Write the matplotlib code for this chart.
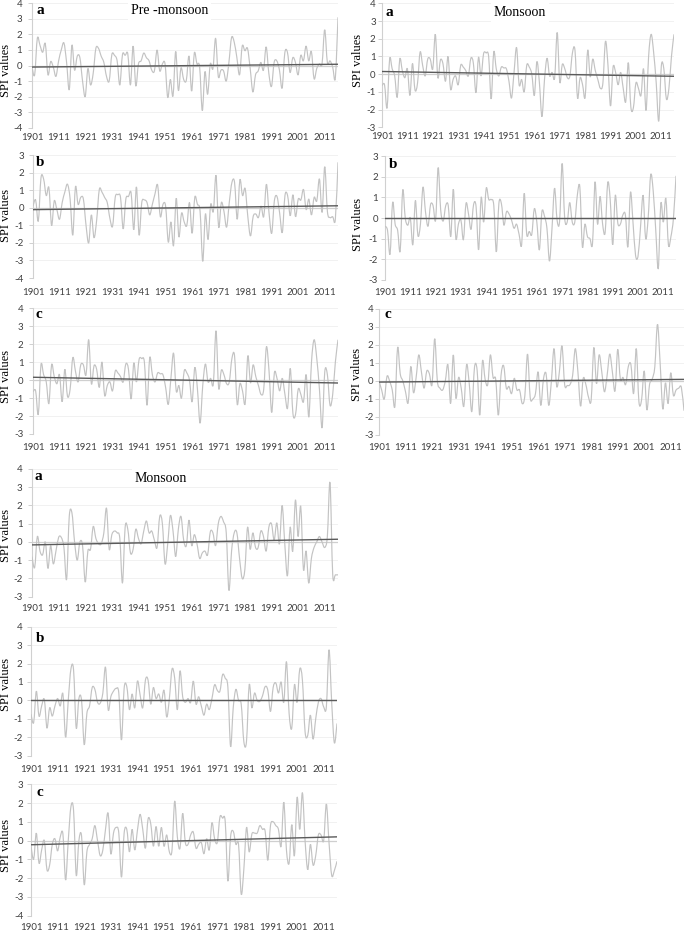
import numpy as np
import matplotlib
matplotlib.use("Agg")
import matplotlib.pyplot as plt
from matplotlib.path import Path
from matplotlib.patches import PathPatch

W, H = 685, 934
START_YEAR = 1901

# ---------------- data (SPI values, 1901-2016) ----------------
pre_a = [
    -0.1, -0.6, 1.75, 1.3, 0.85, 1.4, -0.6, 0.25, -0.1, -0.7,
    0.3, 1.0, 1.45, 0.2, -1.55, 1.3, -0.3, 0.6, 0.5, -1.0,
    -2.0, -0.2, -1.25, -0.5, 1.1, 1.1, 0.6, 0.2, -0.7, -1.0,
    0.7, 0.65, 0.3, -1.25, 0.7, 0.65, 0.75, -1.25, 1.25, -1.3,
    0.1, 0.3, 0.8, 0.5, 0.3, -0.3, -0.35, 1.0, -0.35, 0.1,
    0.1, -2.05, -0.9, -1.95, 0.9, -1.6, -0.15, -0.9, -0.95, 0.6,
    -1.65, 0.8, 0.1, -0.1, -2.9, -0.4, -1.85, 0.1, -0.2, 1.75,
    -0.7, -0.3, -0.35, -1.0, 0.2, 1.8, 1.5, 0.5, -0.6, 1.25,
    0.95, 1.1, -0.2, -1.7, -0.6, -0.35, 0.2, -0.3, 1.2, -0.5,
    -1.35, 0.2, 0.3, -0.3, -1.45, 0.8, 0.85, -0.45, 0.5, 0.2,
    -0.6, 0.65, 0.3, 1.25, 0.3, 0.9, -0.85, -0.2, 0.1, 0.1,
    2.3, 0.2, 0.3, -0.1, -0.8, 3.1]

pre_b = [
    0.1, 0.45, -0.75, 1.7, 1.65, 0.7, 1.15, -1.0, 0.4, -0.1,
    -0.65, 0.3, 0.9, 1.35, 0.5, -1.55, 1.2, 0.2, 0.6, 0.5,
    -1.0, -2.0, -0.4, -1.7, -0.7, 1.05, 0.9, 0.6, 0.3, -0.6,
    -1.05, 0.6, 0.75, 0.6, -1.2, 0.5, 0.65, 0.85, -1.25, 1.2,
    -1.55, 0.3, 0.45, 0.3, -0.4, 0.2, 0.8, 1.3, -0.5, 0.2,
    0.1, -1.95, -0.8, -2.15, 0.55, -1.65, -0.3, -0.8, -1.0, 0.3,
    -1.45, 0.6, 0.2, -0.2, -3.05, -0.35, -1.8, 0.2, -0.2, 1.85,
    -1.1, 0.3, -0.2, -1.1, 0.3, 1.45, 1.45, -0.65, 1.6, 0.7,
    1.1, -0.5, -1.6, -0.5, -0.35, -0.55, 0.1, -0.5, 1.35, -0.3,
    -1.45, 0.4, 0.65, -0.3, -1.4, 0.7, 0.7, -0.45, 0.75, -0.5,
    0.5, 0.45, 1.05, -0.1, 0.5, -0.4, 0.6, 0.4, 1.65, -0.25,
    2.35, -0.2, -0.55, -0.5, -0.65, 2.6]

pre_c = [
    -0.65, -0.6, -1.9, 0.85, 0.3, -0.1, -1.3, 0.85, 0.2, -0.2,
    0.3, -1.2, 0.6, -0.9, -0.5, 1.25, 0.5, -0.1, 0.85, 0.85,
    0.3, 2.25, -0.2, 0.8, 0.6, -0.4, 1.0, -0.85, -0.3, -0.1,
    -0.6, 0.5, 0.4, 0.2, -0.1, 0.9, 0.6, -1.05, 0.95, -0.1,
    1.15, 1.2, 1.0, -1.4, 1.25, 0.3, -0.1, 0.4, 0.35, 0.3,
    -0.4, -1.35, 0.1, 1.5, -0.6, -0.3, -1.0, 0.5, 0.4, 0.0,
    -1.2, 0.7, -0.5, -2.4, -0.3, 0.9, -0.1, 0.1, -0.2, 2.75,
    -0.45, 0.55, 0.3, -0.2, -0.1, 1.2, 1.35, -1.35, -0.2, -0.6,
    -1.3, 1.35, -0.15, 0.85, 0.2, -0.3, -0.8, -0.5, 1.85, 0.5,
    -1.8, 0.4, 0.1, -0.6, 0.1, -0.8, -1.55, 0.65, -1.85, -1.9,
    -0.5, -0.8, -1.2, 0.3, -2.05, 1.0, 2.25, 1.2, -0.5, -2.65,
    0.45, 0.3, -1.4, -0.8, 1.0, 2.25]

mon_r_a = [
    -0.65, -0.6, -1.9, 0.85, 0.3, -0.1, -1.3, 0.85, 0.2, -0.2,
    0.3, -1.2, 0.6, -0.9, -0.5, 1.25, 0.5, -0.1, 0.85, 0.85,
    0.3, 2.25, -0.2, 0.8, 0.6, -0.4, 1.0, -0.85, -0.3, -0.1,
    -0.6, 0.5, 0.4, 0.2, -0.1, 0.9, 0.6, -1.05, 0.95, -0.1,
    1.15, 1.2, 1.0, -1.4, 1.25, 0.3, -0.1, 0.4, 0.35, 0.3,
    -0.4, -1.35, 0.1, 1.5, -0.6, -0.3, -1.0, 0.5, 0.4, 0.0,
    -1.2, 0.7, -0.5, -2.4, -0.3, 0.9, -0.1, 0.1, -0.2, 2.35,
    -0.45, 0.55, 0.3, -0.2, -0.1, 1.2, 1.35, -1.35, -0.2, -0.6,
    -1.3, 1.35, -0.15, 0.85, 0.2, -0.3, -0.8, -0.5, 1.85, 0.5,
    -1.8, 0.4, 0.1, -0.6, 0.1, -0.8, -1.55, 0.65, -1.85, -1.9,
    -0.5, -0.8, -1.2, 0.3, -2.05, 1.0, 2.25, 1.2, -0.5, -2.65,
    0.45, 0.3, -1.4, -0.8, 1.0, 2.25]

mon_r_b = [
    -0.4, -0.6, -1.75, 0.75, -0.3, -0.6, -1.6, 1.35, 0.0, -0.35,
    0.0, -1.3, 0.85, -0.85, -0.3, 1.5, 0.3, -0.4, 0.65, 0.6,
    -0.1, 2.45, 0.4, -0.15, 0.6, 0.6, -0.9, 1.4, -1.0, -0.3,
    -0.1, -1.05, 0.7, 0.2, -0.55, 0.65, 0.55, -1.55, 1.0, -0.2,
    1.45, 0.9, 0.9, 0.6, -1.65, 0.7, 0.7, -0.35, 0.3, 0.2,
    -0.1, -0.5, -0.3, -0.8, -1.3, 1.2, -0.8, -0.65, -0.8, 0.45,
    -0.2, -1.55, 0.3, 0.1, -0.5, -2.1, -0.5, 1.45, -0.1, -0.15,
    2.65, 0.0, -0.2, 0.75, -0.2, -0.2, 1.1, 1.5, -1.4, -0.3,
    -0.9, -1.0, -1.25, 1.75, -0.3, 1.05, -0.3, -0.7, 1.7, 0.9,
    -1.3, 1.1, -0.25, -0.3, 0.15, 0.15, -1.4, 1.25, -0.2, -1.8,
    -1.85, -0.4, 1.1, -1.0, 0.0, 2.1, 1.3, -0.6, -2.45, 0.7,
    -0.2, 0.95, -1.3, -0.9, 0.0, 2.05]

mon_r_c = [
    0.0, -0.5, -1.0, 0.25, 0.0, -0.5, -1.4, 1.85, 0.4, 0.0,
    -0.6, -1.2, 0.8, -0.65, 0.2, 1.45, 0.5, -0.4, 0.55, 0.4,
    -0.2, 2.35, 0.0, -0.4, -0.5, 0.0, 0.9, -1.25, 1.45, -0.95,
    0.2, -0.4, -1.4, 0.9, -0.1, -1.7, 0.75, 0.6, -1.9, 1.1,
    0.1, -0.2, 1.45, 0.2, 0.1, -1.9, 0.3, 0.85, -0.4, -0.3,
    -0.7, 0.15, -0.5, -0.5, -1.25, -0.8, 1.5, -0.9, -1.0, -0.7,
    0.5, -1.35, 0.1, 0.4, -1.35, 0.0, 1.8, -0.3, 0.5, 1.95,
    -0.2, -0.25, -0.2, 0.3, 1.8, 0.5, -1.4, 0.15, -0.2, -0.9,
    -1.05, 1.85, -0.15, 1.45, 0.5, -0.6, 0.3, 1.5, 0.5, -0.55,
    1.75, 0.1, 0.2, -0.2, 0.8, 0.9, -0.7, 1.8, -1.15, -1.05,
    0.55, -1.6, -0.2, 0.1, 0.8, 3.15, 1.0, -1.55, -0.1, -1.25,
    0.45, -0.8, -0.5, -0.4, -0.35, -1.65]

mon_b_a = [
    -0.8, -1.4, 0.3, -0.5, -0.7, 0.0, -1.45, -0.2, -1.2, -0.5,
    0.25, 0.25, -0.3, -2.05, 1.4, 1.6, 0.0, -1.0, 0.0, -0.2,
    -2.2, -0.5, -0.4, 0.85, 0.2, -0.1, -0.1, 0.5, 1.85, -0.4,
    0.4, 0.6, 0.5, 0.2, -2.25, 0.8, 0.7, -0.6, -0.4, 0.7,
    0.2, -0.1, 0.6, 1.15, 0.5, 0.6, 0.1, -0.3, 1.4, 1.0,
    -1.2, -0.1, 1.45, 0.6, -0.8, 0.7, 1.4, 0.1, -0.2, 1.2,
    -0.2, 0.4, -0.1, -0.9, -0.6, -0.5, -0.7, 0.55, 0.5, -0.2,
    1.0, 1.4, 1.1, 0.5, -2.65, -0.5, 0.5, 0.5, -0.9, -2.0,
    -1.5, 0.8, -0.4, 0.5, -0.3, -0.3, 0.6, 0.3, -0.5, 0.8,
    1.0, 0.1, 1.05, -0.1, 2.0, -0.1, -1.85, 0.8, -0.5, 2.3,
    0.3, 1.95, -1.5, -0.5, -2.25, -0.9, -0.3, 0.0, 0.3, 0.0,
    -0.3, 0.3, 3.25, -1.75, -1.8, -1.8]

mon_b_b = [
    -0.75, -1.2, 0.5, -0.85, -0.3, 0.05, -1.5, -0.4, -0.85, -0.3,
    0.1, -0.3, 0.35, -2.0, 0.0, 1.7, 1.65, -1.5, 0.1, 0.0,
    -2.4, -0.7, -0.3, 0.7, 0.6, -0.1, -0.15, 0.4, 1.8, -0.5,
    0.2, 0.5, 0.65, 0.4, -2.15, 0.65, 0.75, -0.5, 0.35, -0.4,
    1.05, 0.3, -0.4, 1.1, 1.1, -0.2, 0.7, 0.1, 0.35, -0.1,
    0.55, -0.9, 0.1, 1.7, 1.2, -0.5, 1.6, 0.2, -0.1, 0.1,
    -0.1, 1.05, -0.2, 0.2, -0.3, -0.8, -0.2, -0.5, 0.1, 0.85,
    0.55, 0.5, 1.4, 1.2, 0.7, -2.5, -0.4, 0.6, 0.0, -0.2,
    -2.25, -2.2, 0.85, -0.4, 0.4, 0.0, -0.05, 0.25, 0.75, 0.55,
    -0.6, 0.7, 0.95, 0.4, 1.0, -0.1, 2.1, -0.7, -1.5, 0.85,
    -0.1, 1.7, 1.1, -1.7, -1.9, -0.8, -2.1, -1.0, -0.1, 0.1,
    -0.35, -0.35, 2.75, -0.1, -2.3, -1.25]

mon_b_c = [
    -0.3, -1.0, 0.4, -1.2, -0.5, 0.0, -1.55, -1.3, -0.2, 0.1,
    -0.55, 0.2, 0.35, -2.1, 0.0, 1.8, 1.6, -1.85, 0.0, 0.25,
    -2.35, -0.6, -0.2, 0.1, 0.8, 0.0, -0.8, -0.5, 0.6, 1.45,
    -0.7, 0.4, 0.7, 0.4, -1.95, 0.4, 0.6, -0.6, 0.6, -0.5,
    0.55, 1.4, 0.6, -0.4, 1.15, 0.9, -0.3, 0.75, -0.3, 0.7,
    -0.3, 0.3, -0.6, -0.5, 2.1, 0.2, -0.4, 1.45, -0.1, -0.2,
    0.3, 0.45, -0.4, -0.2, -0.1, -0.7, 0.1, -0.5, 0.95, 0.1,
    -0.1, 1.25, 1.2, 1.0, -2.15, 0.2, 0.5, -0.2, -0.2, -2.85,
    -1.5, 0.7, -0.6, 0.35, 0.4, 0.4, 0.8, 0.6, 0.5, -1.05,
    0.8, 1.0, 0.8, 0.6, -0.3, 2.05, -0.5, -1.2, 0.85, -0.8,
    2.3, 0.6, 2.55, 0.0, -1.55, -0.2, -1.3, -0.8, 0.3, 0.3,
    0.0, 1.95, -0.1, -1.85, -1.6, -1.1]

# linear trend line values (first year, last year)
trend_pre_a = [-0.10, 0.08]
trend_pre_b = [-0.10, 0.12]
trend_pre_c = [0.16, -0.16]
trend_mon_r_a = [0.15, -0.12]
trend_mon_r_b = [0.0, 0.0]
trend_mon_r_c = [-0.06, 0.09]
trend_mon_b_a = [-0.16, 0.15]
trend_mon_b_b = [0.0, 0.0]
trend_mon_b_c = [-0.22, 0.20]

tick_years = list(range(1901, 2012, 10))
tick_labels = [str(y) for y in tick_years]
panel_letters = ["a", "b", "c", "a", "b", "c", "a", "b", "c"]
season_titles = ["Pre -monsoon", "Monsoon", "Monsoon"]

# ---------------- style ----------------
SERIF = "Liberation Serif"
SANS = "Lato"
LINE_C = "#c3c3c3"
TREND_C = "#5a5a5a"
AXIS_C = "#d0d0d0"
GRID_C = "#f1f1f1"
TICK_TXT = "#404040"


def smooth_path(x, y):
    n = len(x)
    verts = [(x[0], y[0])]
    codes = [Path.MOVETO]
    for i in range(n - 1):
        i0 = i - 1 if i > 0 else i
        i3 = i + 2 if i + 2 < n else i + 1
        c1 = (x[i] + (x[i + 1] - x[i0]) / 6.0, y[i] + (y[i + 1] - y[i0]) / 6.0)
        c2 = (x[i + 1] - (x[i3] - x[i]) / 6.0, y[i + 1] - (y[i3] - y[i]) / 6.0)
        verts += [c1, c2, (x[i + 1], y[i + 1])]
        codes += [Path.CURVE4] * 3
    return Path(verts, codes)


fig = plt.figure(figsize=(W / 100, H / 100), dpi=100)
fig.patch.set_facecolor("white")

# (series, trend, x0, x1, y_top, y_bottom, ymin, ymax, xlabel_pad, ylabel_pad, letter_xy, ylabel_xy)
panels = [
    (pre_a, trend_pre_a, 32, 338, 3.3, 127.7, -4, 4, 3.5, 4.0, (40, 11), (6.0, 70)),
    (pre_b, trend_pre_b, 33, 338, 155.3, 278.0, -4, 3, 7.0, 3.5, (40, 163), (6.0, 215)),
    (pre_c, trend_pre_c, 33, 338, 308.3, 434.0, -3, 4, 6.5, 3.8, (39, 315), (6.0, 376)),
    (mon_r_a, trend_mon_r_a, 382, 674, 3.3, 127.3, -3, 4, 3.7, 1.5, (389, 12), (358, 60)),
    (mon_r_b, trend_mon_r_b, 385, 676, 156.3, 279.7, -3, 3, 6.3, 2.0, (393, 165), (358, 224)),
    (mon_r_c, trend_mon_r_c, 379, 684, 309.0, 435.0, -3, 4, 6.1, 1.0, (388, 315), (357, 374)),
    (mon_b_a, trend_mon_b_a, 32, 338, 469.0, 596.7, -3, 4, 5.6, 3.8, (38, 477), (6.0, 535)),
    (mon_b_b, trend_mon_b_b, 31, 337, 626.7, 755.7, -3, 4, 7.0, 3.0, (40, 638), (6.0, 684)),
    (mon_b_c, trend_mon_b_c, 31, 337, 784.3, 915.7, -4, 3, 5.6, 2.5, (40, 793), (6.0, 845)),
]

title_pos = [(169.5, 11), (520, 12.3), (161, 478)]

for k, (series, trend, x0, x1, yt, yb, ymin, ymax, xpad, ypad, lxy, ylxy) in enumerate(panels):
    ax = fig.add_axes([x0 / W, 1 - yb / H, (x1 - x0) / W, (yb - yt) / H])
    ax.set_facecolor("none")
    years = np.arange(START_YEAR, START_YEAR + len(series))
    vals = np.array(series, dtype=float)
    ax.set_xlim(START_YEAR, 2016)
    ax.set_ylim(ymin, ymax)
    ax.set_yticks(range(ymin, ymax + 1))
    ax.set_yticklabels([str(v) for v in range(ymin, ymax + 1)])
    ax.set_xticks(tick_years)
    ax.set_xticklabels(tick_labels)
    ax.yaxis.grid(True, color=GRID_C, lw=0.7)
    ax.set_axisbelow(True)
    for s in ["top", "right", "bottom"]:
        ax.spines[s].set_visible(False)
    ax.spines["left"].set_color(AXIS_C)
    ax.spines["left"].set_linewidth(0.8)
    ax.tick_params(axis="y", length=3, width=0.7, color=AXIS_C, pad=ypad,
                   labelsize=7, labelcolor=TICK_TXT)
    ax.tick_params(axis="x", length=0, pad=xpad, labelsize=7, labelcolor=TICK_TXT)
    for lab in ax.get_xticklabels() + ax.get_yticklabels():
        lab.set_fontfamily(SANS)
    # horizontal category axis at zero
    ax.axhline(0, color="#cfcfcf", lw=0.9, zorder=2)
    # smoothed SPI line
    ax.add_patch(PathPatch(smooth_path(years, vals), fill=False,
                           ec=LINE_C, lw=0.85, zorder=3))
    # linear trend
    ax.plot([years[0], years[-1]], trend, color=TREND_C, lw=1.0, zorder=4)

    fig.text(lxy[0] / W, 1 - lxy[1] / H, panel_letters[k], family=SERIF,
             fontweight="bold", fontsize=11, ha="center", va="center")
    fig.text(ylxy[0] / W, 1 - ylxy[1] / H, "SPI values", family=SERIF,
             fontsize=9, rotation=90, ha="center", va="center")

for k in range(3):
    tx, ty = title_pos[k]
    fig.text(tx / W, 1 - ty / H, season_titles[k], family=SERIF, fontsize=10,
             ha="center", va="center",
             bbox=dict(facecolor="white", edgecolor="none", pad=2))

fig.savefig("out.png", dpi=100, facecolor="white")
